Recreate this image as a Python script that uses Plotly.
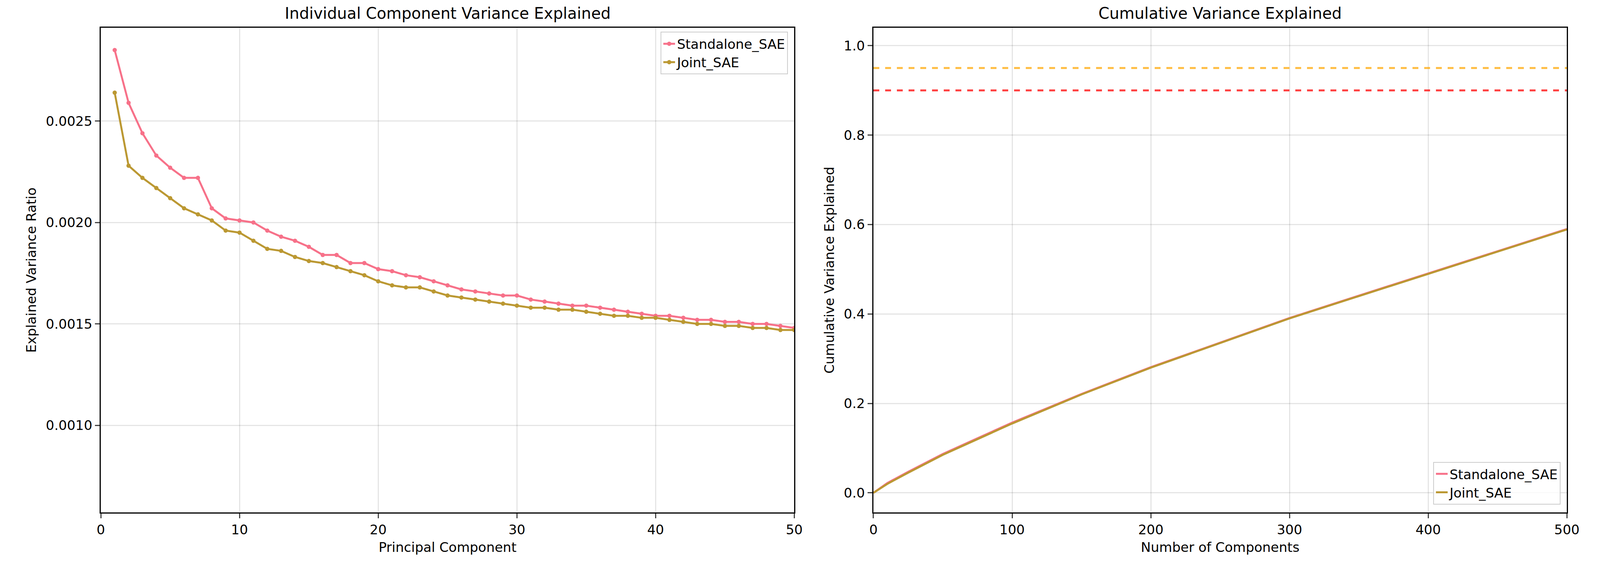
import plotly.graph_objects as go

# Individual explained variance ratio, first 50 components
components = list(range(1, 51))
standalone_ratio = [0.00285, 0.00259, 0.00244, 0.00233, 0.00227, 0.00222, 0.00222, 0.00207, 0.00202, 0.00201,
                    0.00200, 0.00196, 0.00193, 0.00191, 0.00188, 0.00184, 0.00184, 0.00180, 0.00180, 0.00177,
                    0.00176, 0.00174, 0.00173, 0.00171, 0.00169, 0.00167, 0.00166, 0.00165, 0.00164, 0.00164,
                    0.00162, 0.00161, 0.00160, 0.00159, 0.00159, 0.00158, 0.00157, 0.00156, 0.00155, 0.00154,
                    0.00154, 0.00153, 0.00152, 0.00152, 0.00151, 0.00151, 0.00150, 0.00150, 0.00149, 0.00148]
joint_ratio = [0.00264, 0.00228, 0.00222, 0.00217, 0.00212, 0.00207, 0.00204, 0.00201, 0.00196, 0.00195,
               0.00191, 0.00187, 0.00186, 0.00183, 0.00181, 0.00180, 0.00178, 0.00176, 0.00174, 0.00171,
               0.00169, 0.00168, 0.00168, 0.00166, 0.00164, 0.00163, 0.00162, 0.00161, 0.00160, 0.00159,
               0.00158, 0.00158, 0.00157, 0.00157, 0.00156, 0.00155, 0.00154, 0.00154, 0.00153, 0.00153,
               0.00152, 0.00151, 0.00150, 0.00150, 0.00149, 0.00149, 0.00148, 0.00148, 0.00147, 0.00147]

# Cumulative variance, read at sample points
n_components = [0, 10, 25, 50, 75, 100, 150, 200, 250, 300, 350, 400, 450, 500]
standalone_cum = [0, 0.022, 0.047, 0.087, 0.122, 0.157, 0.221, 0.281, 0.336, 0.391, 0.441, 0.491, 0.541, 0.590]
joint_cum = [0, 0.020, 0.045, 0.085, 0.120, 0.155, 0.220, 0.280, 0.335, 0.390, 0.440, 0.490, 0.540, 0.589]
thresholds = [0.95, 0.90]
threshold_colors = ['rgba(255,165,0,0.75)', 'rgba(255,0,0,0.75)']

PINK = '#f77189'
GOLD = '#bb9832'
FONT = 'DejaVu Sans'

fig = go.Figure()

fig.add_trace(go.Scatter(x=components, y=standalone_ratio, mode='lines+markers', name='Standalone_SAE',
                         line=dict(color=PINK, width=5), marker=dict(size=11, color=PINK),
                         xaxis='x', yaxis='y', legend='legend'))
fig.add_trace(go.Scatter(x=components, y=joint_ratio, mode='lines+markers', name='Joint_SAE',
                         line=dict(color=GOLD, width=5), marker=dict(size=11, color=GOLD),
                         xaxis='x', yaxis='y', legend='legend'))

for t, c in zip(thresholds, threshold_colors):
    fig.add_trace(go.Scatter(x=[0, 500], y=[t, t], mode='lines', showlegend=False,
                             line=dict(color=c, width=5, dash='dash'), xaxis='x2', yaxis='y2'))

fig.add_trace(go.Scatter(x=n_components, y=standalone_cum, mode='lines', name='Standalone_SAE',
                         line=dict(color=PINK, width=5), xaxis='x2', yaxis='y2', legend='legend2'))
fig.add_trace(go.Scatter(x=n_components, y=joint_cum, mode='lines', name='Joint_SAE',
                         line=dict(color=GOLD, width=5), xaxis='x2', yaxis='y2', legend='legend2'))

axis_style = dict(showline=True, linecolor='black', linewidth=3, mirror=True, ticks='outside',
                  ticklen=12, tickwidth=3, showgrid=True, gridcolor='rgba(0,0,0,0.1)', gridwidth=3,
                  zeroline=False, tickfont=dict(size=34, color='black'))

fig.update_layout(
    autosize=True,
    paper_bgcolor='white', plot_bgcolor='white',
    font=dict(family=FONT, size=34, color='black'),
    margin=dict(l=0, r=0, t=0, b=0),
    xaxis=dict(domain=[0.059, 0.497], range=[0, 50], tickvals=[0, 10, 20, 30, 40, 50],
               title=dict(text='Principal Component', font=dict(size=34)), anchor='y', **axis_style),
    yaxis=dict(domain=[0.111, 0.957], range=[0.00057, 0.00296],
               tickvals=[0.0010, 0.0015, 0.0020, 0.0025], tickformat='.4f',
               title=dict(text='Explained Variance Ratio', font=dict(size=34)), anchor='x', **axis_style),
    xaxis2=dict(domain=[0.547, 0.985], range=[0, 500], tickvals=[0, 100, 200, 300, 400, 500],
                title=dict(text='Number of Components', font=dict(size=34)), anchor='y2', **axis_style),
    yaxis2=dict(domain=[0.111, 0.957], range=[-0.044, 1.04],
                tickvals=[0, 0.2, 0.4, 0.6, 0.8, 1.0], tickformat='.1f',
                title=dict(text='Cumulative Variance Explained', font=dict(size=34)), anchor='x2', **axis_style),
    legend=dict(x=0.493, y=0.95, xanchor='right', yanchor='top', bgcolor='rgba(255,255,255,0.8)',
                bordercolor='#cccccc', borderwidth=2, font=dict(size=34)),
    legend2=dict(x=0.981, y=0.125, xanchor='right', yanchor='bottom', bgcolor='rgba(255,255,255,0.8)',
                 bordercolor='#cccccc', borderwidth=2, font=dict(size=34)),
    annotations=[
        dict(text='Individual Component Variance Explained', x=0.278, y=0.965, xref='paper', yref='paper',
             xanchor='center', yanchor='bottom', showarrow=False, font=dict(size=40)),
        dict(text='Cumulative Variance Explained', x=0.766, y=0.965, xref='paper', yref='paper',
             xanchor='center', yanchor='bottom', showarrow=False, font=dict(size=40)),
    ],
)

fig.write_html('out.html', default_width='100vw', default_height='100vh',
               config=dict(responsive=True))
